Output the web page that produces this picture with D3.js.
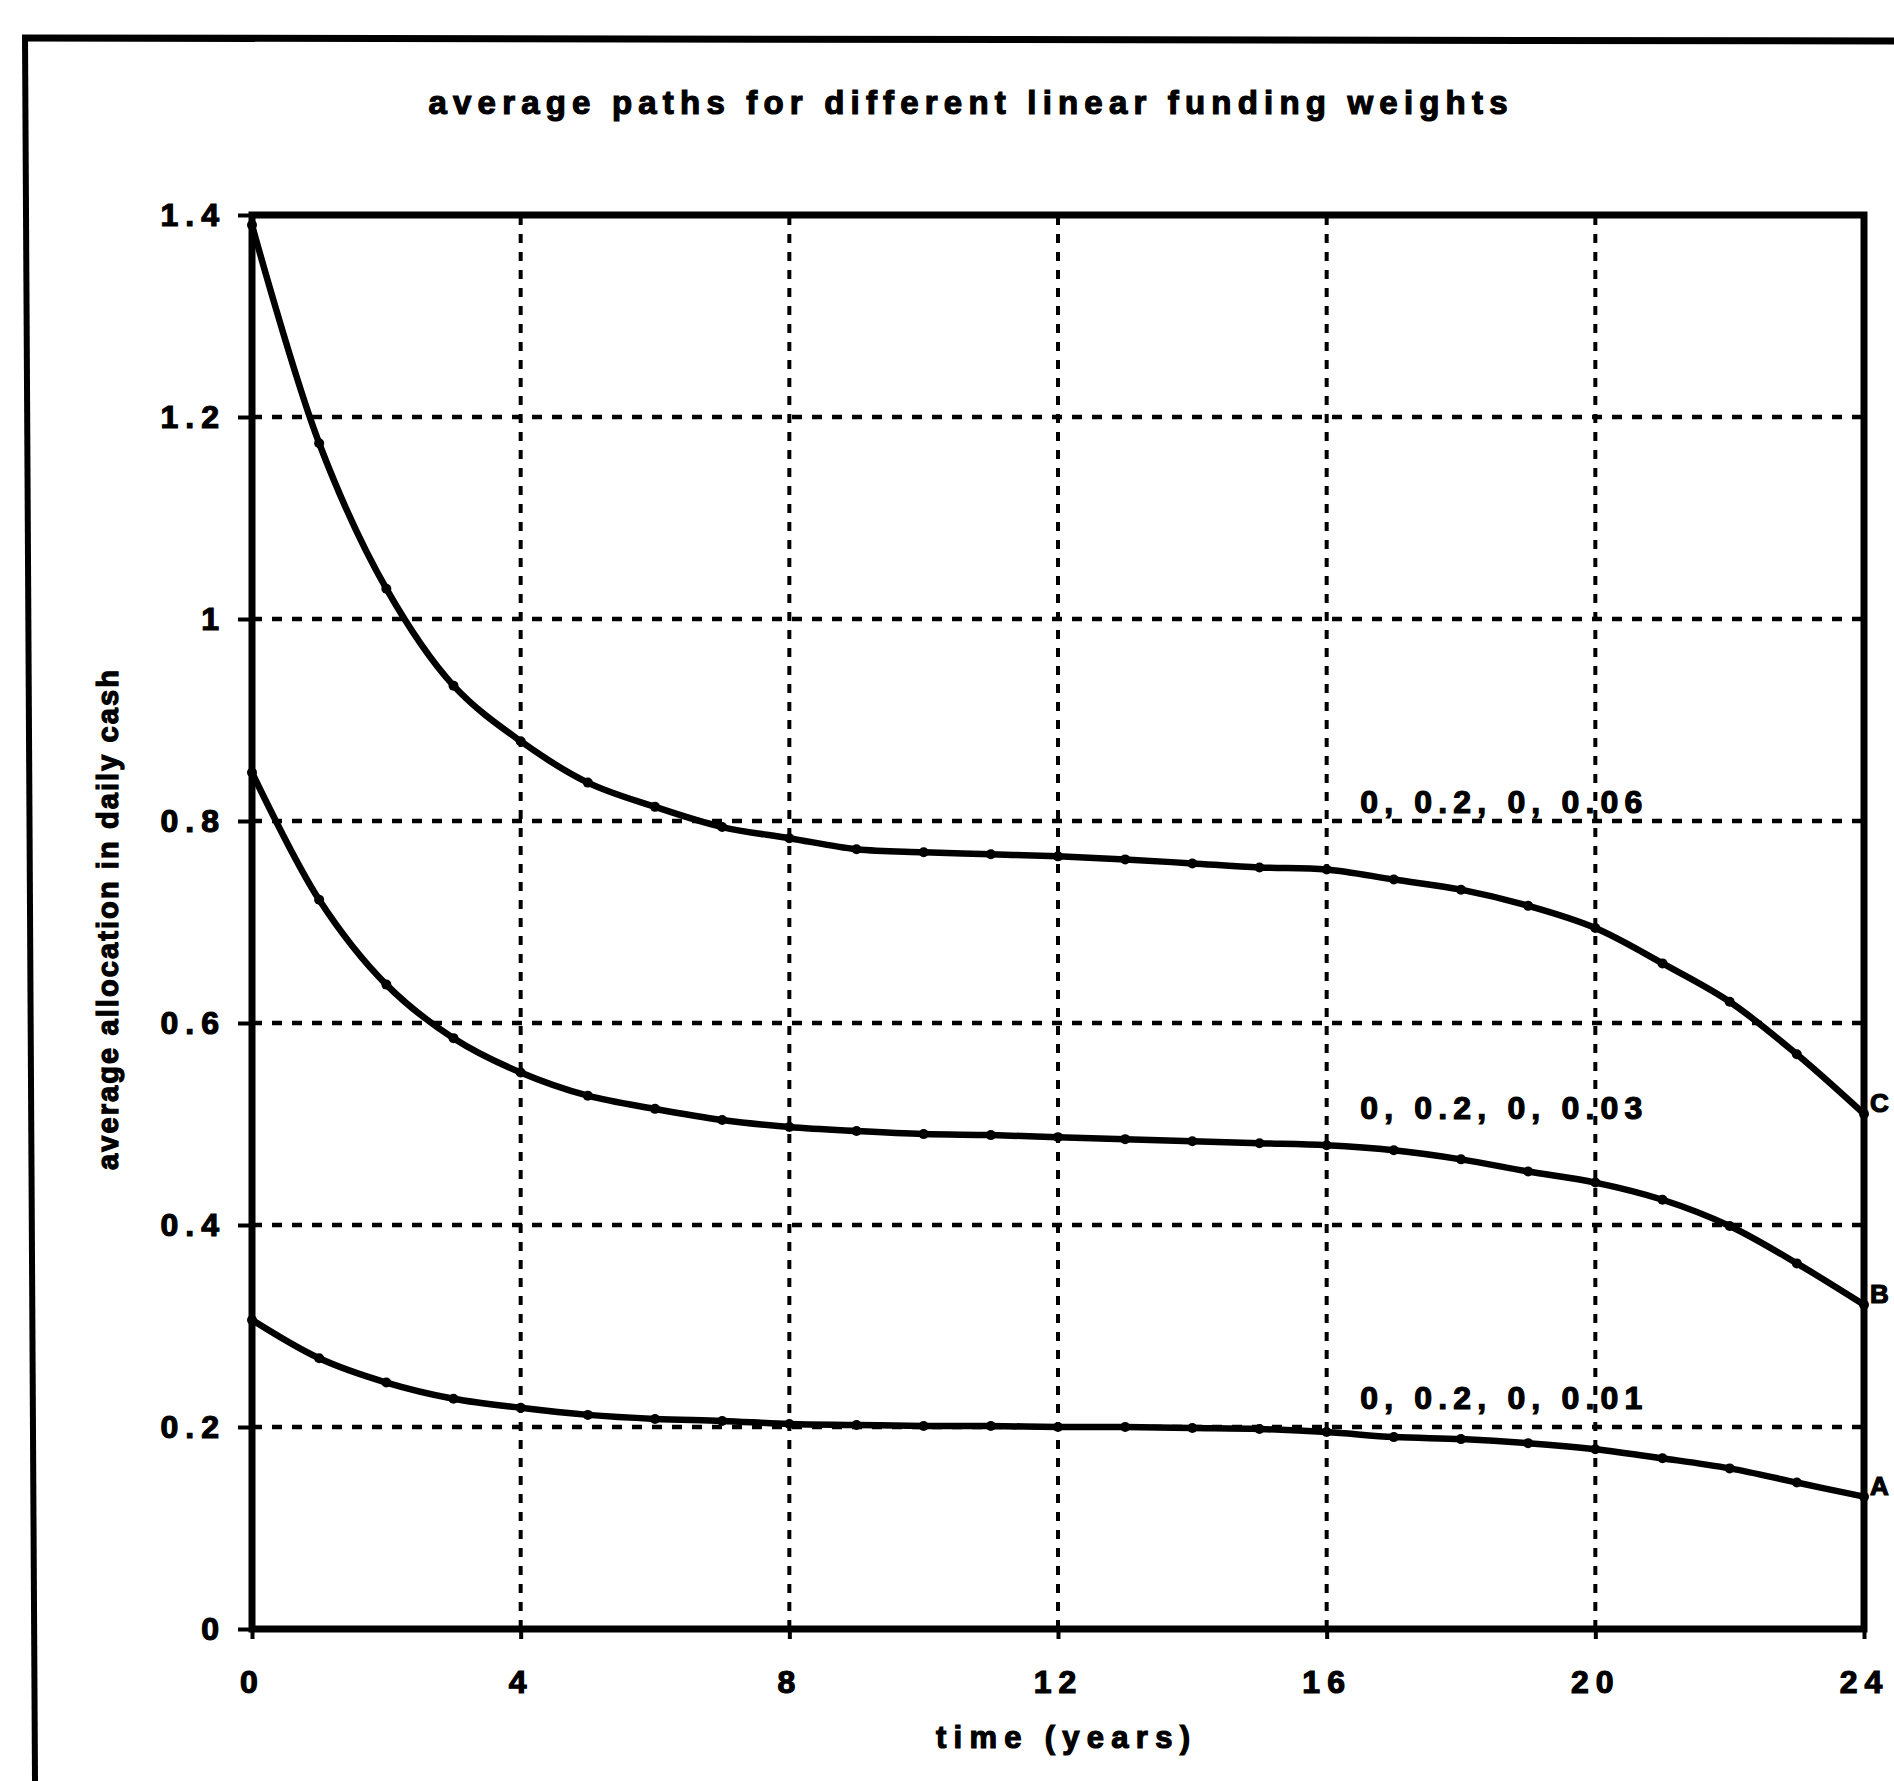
<!DOCTYPE html>
<html>
<head>
<meta charset="utf-8">
<script src="https://cdn.jsdelivr.net/npm/d3@7"></script>
<style>
  html, body { margin: 0; padding: 0; background: #fff; }
  svg { display: block; }
  text { font-family: "Liberation Sans", Arial, sans-serif; font-weight: bold; fill: #000; stroke: #000; stroke-width: 1.2px; }
</style>
</head>
<body>
<svg id="chart" width="1894" height="1781"></svg>
<script>
// ---- data ----
const years = [0,1,2,3,4,5,6,7,8,9,10,11,12,13,14,15,16,17,18,19,20,21,22,23,24];
const seriesA = [0.306,0.268,0.244,0.228,0.219,0.212,0.208,0.206,0.203,0.202,0.201,0.201,0.200,0.200,0.199,0.198,0.195,0.190,0.188,0.184,0.178,0.169,0.159,0.145,0.131];
const seriesB = [0.848,0.722,0.638,0.585,0.551,0.528,0.515,0.504,0.497,0.493,0.490,0.489,0.487,0.485,0.483,0.481,0.479,0.474,0.465,0.453,0.442,0.425,0.399,0.362,0.321];
const seriesC = [1.39,1.174,1.03,0.934,0.879,0.838,0.814,0.794,0.783,0.772,0.769,0.767,0.765,0.762,0.758,0.754,0.752,0.742,0.732,0.716,0.694,0.659,0.621,0.569,0.510];
const seriesNames = ["A", "B", "C"];
const seriesLabels = ["0, 0.2, 0, 0.01", "0, 0.2, 0, 0.03", "0, 0.2, 0, 0.06"];
const xTicks = [0,4,8,12,16,20,24];
const yTicks = [0,0.2,0.4,0.6,0.8,1,1.2,1.4];
const yTickLabels = ["0","0.2","0.4","0.6","0.8","1","1.2","1.4"];
const titleText = "average paths for different linear funding weights";
const xLabelText = "time (years)";
const yLabelText = "average allocation in daily cash";

// ---- layout ----
const svg = d3.select("#chart");
const x = d3.scaleLinear().domain([0, 24]).range([252, 1864]);
const y = d3.scaleLinear().domain([0, 1.4]).range([1629, 215]);

// outer frame (scanned border)
svg.append("line").attr("x1", 22).attr("y1", 38).attr("x2", 1894).attr("y2", 41)
  .attr("stroke", "#000").attr("stroke-width", 7);
svg.append("line").attr("x1", 25).attr("y1", 36).attr("x2", 35).attr("y2", 1781)
  .attr("stroke", "#000").attr("stroke-width", 6);

// title
svg.append("text").attr("x", 968).attr("y", 114).attr("text-anchor", "middle")
  .attr("font-size", 33).attr("textLength", 1079).attr("lengthAdjust", "spacing")
  .text(titleText);

// grid
const grid = svg.append("g");
grid.selectAll("line.h").data(yTicks.filter(d => d > 0 && d < 1.4)).join("line")
  .attr("x1", x(0)).attr("x2", x(24)).attr("y1", d => y(d)).attr("y2", d => y(d))
  .attr("stroke", "#000").attr("stroke-width", 4.5).attr("stroke-dasharray", "10,10");
grid.selectAll("line.v").data(xTicks.filter(d => d > 0 && d < 24)).join("line")
  .attr("y1", y(0)).attr("y2", y(1.4)).attr("x1", d => x(d)).attr("x2", d => x(d))
  .attr("stroke", "#000").attr("stroke-width", 4).attr("stroke-dasharray", "9,9");

// axes
const xAxis = d3.axisBottom(x).tickValues(xTicks).tickSize(10).tickPadding(31).tickFormat(d3.format("d"));
const yAxis = d3.axisLeft(y).tickValues(yTicks).tickSize(14).tickPadding(12).tickFormat((d, i) => yTickLabels[i]);
const gx = svg.append("g").attr("transform", `translate(0,${y(0)})`).call(xAxis);
const gy = svg.append("g").attr("transform", `translate(${x(0)},0)`).call(yAxis);
[gx, gy].forEach(g => {
  g.select(".domain").remove();
  g.selectAll(".tick line").attr("stroke", "#000").attr("stroke-width", 4);
  g.selectAll(".tick text").attr("font-size", 32).attr("font-family", "Liberation Sans, Arial, sans-serif")
    .attr("font-weight", "bold").attr("fill", "#000").attr("letter-spacing", 7);
});
gx.selectAll(".tick text").attr("dy", "0.71em");

// plot frame
svg.append("rect").attr("x", x(0)).attr("y", y(1.4))
  .attr("width", x(24) - x(0)).attr("height", y(0) - y(1.4))
  .attr("fill", "none").attr("stroke", "#000").attr("stroke-width", 7);

// series
const allSeries = [seriesA, seriesB, seriesC];
const line = d3.line().x((d, i) => x(years[i])).y(d => y(d)).curve(d3.curveCatmullRom.alpha(0.5));
const gs = svg.append("g");
allSeries.forEach((s, k) => {
  gs.append("path").datum(s).attr("d", line)
    .attr("fill", "none").attr("stroke", "#000").attr("stroke-width", 6.5)
    .attr("stroke-linejoin", "round");
  gs.selectAll(null).data(s).join("circle")
    .attr("cx", (d, i) => x(years[i])).attr("cy", d => y(d)).attr("r", 5).attr("fill", "#000");
  // end letter
  gs.append("text").attr("x", x(24) + 6).attr("y", y(s[s.length - 1]) - 2)
    .attr("font-size", 26).text(seriesNames[k]);
});

// series annotations
const annPos = [[16.5, 0.218], [16.5, 0.505], [16.5, 0.808]];
seriesLabels.forEach((t, k) => {
  svg.append("text").attr("x", x(annPos[k][0])).attr("y", y(annPos[k][1]))
    .attr("font-size", 32).attr("textLength", 282).attr("lengthAdjust", "spacing").text(t);
});

// axis titles
svg.append("text").attr("x", 1063).attr("y", 1748).attr("text-anchor", "middle")
  .attr("font-size", 31).attr("textLength", 254).attr("lengthAdjust", "spacing").text(xLabelText);
svg.append("text").attr("transform", "translate(118,920) rotate(-90)").attr("text-anchor", "middle")
  .attr("font-size", 29).attr("textLength", 500).attr("lengthAdjust", "spacing").text(yLabelText);
</script>
</body>
</html>
